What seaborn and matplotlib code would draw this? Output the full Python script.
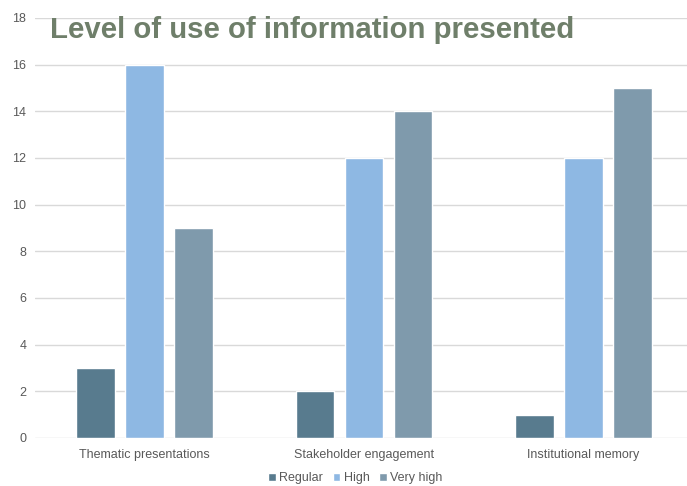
import matplotlib
matplotlib.use("Agg")
import matplotlib.pyplot as plt
import seaborn as sns
import pandas as pd

categories = ["Thematic presentations", "Stakeholder engagement", "Institutional memory"]
series = ["Regular", "High", "Very high"]
regular = [3, 2, 1]
high = [16, 12, 12]
very_high = [9, 14, 15]
colors = ["#587B8E", "#8EB8E3", "#7F9AAC"]

rows = []
for s, vals in zip(series, [regular, high, very_high]):
    for c, v in zip(categories, vals):
        rows.append({"Category": c, "Level": s, "Value": v})
df = pd.DataFrame(rows)

sns.set_theme(style="white")
plt.rcParams['font.family'] = ['Liberation Sans', 'DejaVu Sans']

fig = plt.figure(figsize=(6.87, 4.86), dpi=100)
ax = fig.add_axes([34.75 / 687, 0.0988, 658.5 / 687, 0.8642])
sns.barplot(data=df, x="Category", y="Value", hue="Level", hue_order=series,
            palette=colors, width=0.668, gap=0.216, ax=ax, saturation=1, errorbar=None)

ax.set_ylim(0, 18)
ax.set_yticks(range(0, 19, 2))
ax.set_xlim(-0.5, 2.5)
ax.yaxis.grid(True, color="#D9D9D9", linewidth=1)
ax.set_axisbelow(True)
for sp in ax.spines.values():
    sp.set_visible(False)
ax.set_xlabel("")
ax.set_ylabel("")
ax.tick_params(axis="both", length=0, labelsize=9, colors="#595959", pad=8)
ax.tick_params(axis="y", pad=6)

leg = ax.legend(loc="upper center", bbox_to_anchor=(0.487, -0.055), ncol=3, frameon=False,
                fontsize=9, handlelength=0.6, handleheight=0.6, handletextpad=0.25,
                columnspacing=0.8)
for t in leg.get_texts():
    t.set_color("#595959")

fig.text(0.073, 0.922, "Level of use of information presented", fontsize=21.2,
         fontweight="bold", color="#6F7F6A", ha="left", va="baseline")

fig.savefig("out.png", dpi=100)
